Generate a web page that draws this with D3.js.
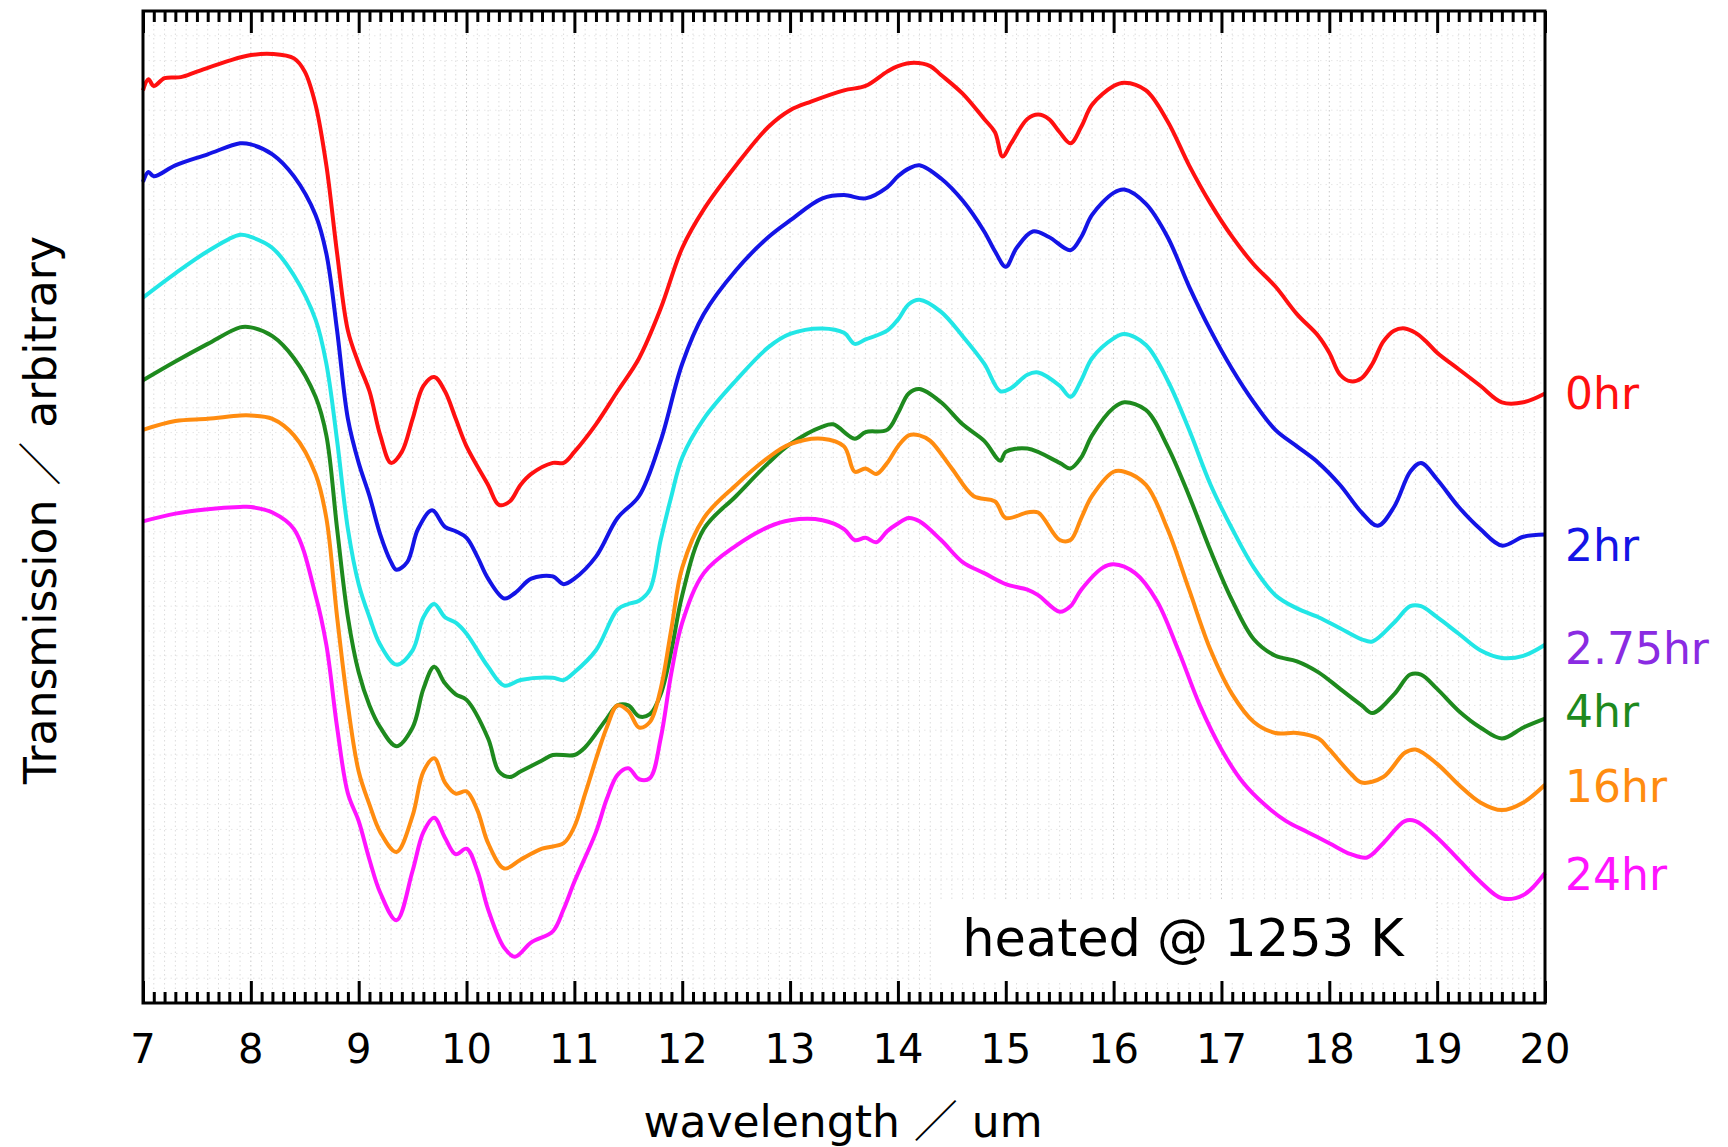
<!DOCTYPE html>
<html>
<head>
<meta charset="utf-8">
<script src="https://cdn.jsdelivr.net/npm/d3@7"></script>
<style>
  body { margin: 0; background: #fff; }
  svg { display: block; font-family: "DejaVu Sans", "Noto Sans CJK JP", sans-serif; }
</style>
</head>
<body>
<svg id="chart" width="1728" height="1147"></svg>
<script>
// wavelength (um), transmission (arbitrary units, offset stacked)
var hr0 = [[7.0,82.8],[7.05,83.8],[7.1,83.2],[7.2,83.9],[7.35,84.0],[7.5,84.5],[7.8,85.5],[8.0,86.0],[8.2,86.1],[8.4,85.7],[8.5,84.5],[8.6,81.5],[8.7,76.0],[8.8,68.0],[8.9,61.0],[9.0,58.0],[9.1,55.5],[9.2,51.5],[9.3,49.0],[9.4,50.0],[9.5,53.0],[9.6,56.0],[9.7,56.8],[9.8,55.5],[9.9,53.0],[10.0,50.5],[10.2,47.0],[10.3,45.2],[10.4,45.5],[10.5,47.0],[10.6,48.0],[10.8,49.0],[10.9,49.0],[11.0,50.0],[11.2,52.5],[11.4,55.5],[11.6,58.5],[11.8,63.0],[12.0,68.5],[12.2,72.0],[12.5,76.0],[12.8,79.5],[13.0,81.0],[13.2,81.8],[13.5,82.8],[13.7,83.2],[13.9,84.5],[14.0,85.0],[14.15,85.3],[14.3,85.0],[14.4,84.2],[14.6,82.5],[14.8,80.2],[14.9,79.0],[14.97,76.8],[15.05,78.0],[15.2,80.2],[15.3,80.6],[15.4,80.2],[15.5,79.0],[15.6,78.0],[15.7,79.5],[15.8,81.5],[16.0,83.2],[16.1,83.5],[16.3,82.8],[16.5,80.0],[16.7,76.0],[16.9,72.5],[17.1,69.5],[17.3,67.0],[17.5,65.0],[17.7,62.5],[17.9,60.5],[18.0,59.0],[18.1,57.0],[18.2,56.4],[18.3,56.7],[18.4,58.0],[18.5,60.0],[18.6,61.0],[18.7,61.2],[18.8,60.8],[18.9,60.0],[19.0,59.0],[19.2,57.5],[19.4,56.0],[19.6,54.5],[19.8,54.5],[20.0,55.3]];
var hr2 = [[7.0,74.5],[7.05,75.4],[7.1,75.0],[7.3,76.0],[7.6,77.0],[7.9,78.0],[8.0,77.9],[8.2,77.0],[8.4,75.0],[8.6,71.5],[8.7,68.0],[8.8,61.0],[8.9,53.0],[9.0,49.0],[9.1,46.0],[9.2,42.5],[9.3,40.0],[9.35,39.3],[9.45,40.0],[9.55,43.0],[9.68,44.7],[9.8,43.2],[9.9,42.8],[10.0,42.2],[10.1,40.5],[10.2,38.5],[10.35,36.7],[10.45,37.2],[10.6,38.5],[10.8,38.7],[10.9,38.0],[11.0,38.5],[11.2,40.5],[11.4,44.0],[11.6,46.0],[11.8,51.0],[12.0,58.0],[12.2,62.5],[12.5,66.5],[12.8,69.5],[13.0,71.0],[13.3,73.0],[13.5,73.3],[13.7,73.0],[13.9,74.0],[14.0,75.0],[14.1,75.7],[14.2,76.0],[14.4,74.8],[14.6,72.8],[14.8,70.0],[14.9,68.2],[15.0,66.8],[15.1,68.5],[15.25,70.0],[15.4,69.5],[15.6,68.3],[15.7,69.5],[15.8,71.5],[16.0,73.5],[16.1,73.8],[16.3,72.5],[16.5,69.5],[16.7,65.0],[16.9,61.0],[17.1,57.5],[17.3,54.5],[17.5,52.0],[17.7,50.5],[17.9,49.0],[18.1,47.0],[18.3,44.5],[18.45,43.3],[18.6,45.0],[18.75,48.2],[18.85,49.0],[19.0,47.5],[19.2,45.0],[19.4,43.0],[19.6,41.5],[19.8,42.3],[20.0,42.5]];
var hr275 = [[7.0,64.0],[7.3,66.2],[7.6,68.2],[7.9,69.7],[8.0,69.5],[8.2,68.5],[8.4,66.0],[8.6,62.0],[8.7,58.0],[8.8,51.0],[8.9,43.0],[9.0,38.0],[9.1,35.0],[9.2,32.5],[9.35,30.7],[9.5,32.0],[9.6,35.0],[9.7,36.2],[9.8,35.0],[9.9,34.5],[10.0,33.5],[10.2,30.5],[10.35,28.8],[10.5,29.3],[10.8,29.5],[10.9,29.3],[11.0,30.0],[11.2,32.0],[11.4,35.7],[11.5,36.2],[11.6,36.5],[11.7,37.5],[11.8,42.0],[11.9,46.0],[12.0,49.5],[12.2,53.0],[12.5,56.5],[12.8,59.5],[13.0,60.7],[13.3,61.2],[13.5,60.8],[13.6,59.8],[13.7,60.2],[13.9,61.0],[14.0,62.0],[14.1,63.4],[14.2,63.8],[14.4,62.7],[14.6,60.5],[14.8,58.0],[14.95,55.5],[15.05,55.8],[15.2,57.0],[15.3,57.2],[15.5,56.0],[15.6,55.0],[15.7,56.5],[15.8,58.5],[16.0,60.3],[16.1,60.7],[16.3,59.7],[16.5,56.5],[16.7,52.0],[16.9,47.0],[17.1,43.0],[17.3,39.5],[17.5,37.0],[17.7,35.8],[17.9,35.0],[18.1,34.0],[18.3,33.0],[18.4,32.8],[18.6,34.5],[18.75,36.0],[18.85,36.0],[19.0,35.0],[19.2,33.5],[19.4,32.0],[19.6,31.3],[19.8,31.5],[20.0,32.5]];
var hr4 = [[7.0,56.5],[7.3,58.2],[7.6,59.8],[7.9,61.3],[8.0,61.3],[8.2,60.5],[8.4,58.5],[8.6,55.0],[8.7,51.5],[8.8,43.0],[8.9,35.0],[9.0,30.0],[9.1,27.0],[9.2,25.0],[9.35,23.3],[9.5,25.0],[9.6,28.5],[9.7,30.5],[9.8,29.0],[9.9,28.0],[10.0,27.5],[10.2,24.0],[10.3,21.0],[10.4,20.5],[10.5,21.0],[10.7,22.0],[10.8,22.5],[11.0,22.5],[11.1,23.2],[11.3,25.8],[11.4,27.0],[11.5,27.0],[11.6,26.0],[11.7,26.2],[11.8,28.0],[11.9,32.0],[12.0,37.0],[12.2,43.0],[12.5,46.0],[12.8,49.0],[13.0,50.7],[13.3,52.3],[13.4,52.5],[13.6,51.2],[13.7,51.8],[13.9,52.0],[14.0,53.5],[14.1,55.3],[14.2,55.7],[14.4,54.5],[14.6,52.5],[14.8,51.0],[14.95,49.2],[15.0,50.0],[15.2,50.3],[15.5,49.0],[15.6,48.5],[15.7,49.5],[15.8,51.5],[16.0,54.0],[16.1,54.5],[16.3,53.8],[16.5,50.5],[16.7,46.0],[16.9,41.0],[17.1,36.5],[17.3,33.0],[17.5,31.5],[17.7,31.0],[17.9,30.0],[18.1,28.5],[18.3,27.0],[18.4,26.3],[18.6,28.0],[18.75,29.8],[18.85,29.8],[19.0,28.5],[19.2,26.5],[19.4,25.0],[19.6,24.0],[19.8,25.0],[20.0,25.8]];
var hr16 = [[7.0,52.0],[7.3,52.8],[7.6,53.0],[7.9,53.3],[8.0,53.3],[8.2,53.0],[8.4,51.5],[8.6,48.0],[8.7,44.0],[8.8,35.0],[8.9,27.0],[9.0,21.0],[9.1,18.0],[9.2,15.5],[9.35,13.7],[9.5,17.0],[9.6,21.0],[9.7,22.2],[9.8,20.0],[9.9,19.0],[10.0,19.2],[10.1,17.5],[10.2,14.5],[10.35,12.2],[10.5,13.0],[10.7,14.0],[10.9,14.5],[11.0,16.0],[11.1,19.0],[11.3,25.0],[11.4,27.0],[11.5,26.5],[11.6,25.0],[11.7,25.5],[11.8,28.5],[11.9,34.0],[12.0,39.5],[12.2,44.0],[12.5,47.0],[12.8,49.5],[13.0,50.7],[13.3,51.2],[13.5,50.5],[13.6,48.2],[13.7,48.5],[13.8,48.0],[13.9,49.0],[14.0,50.5],[14.1,51.5],[14.2,51.5],[14.3,51.0],[14.5,48.5],[14.7,46.0],[14.9,45.5],[15.0,44.0],[15.2,44.5],[15.3,44.5],[15.5,42.0],[15.6,42.0],[15.7,44.0],[15.8,46.0],[16.0,48.2],[16.1,48.2],[16.3,47.0],[16.5,43.0],[16.7,37.5],[16.9,32.0],[17.1,28.0],[17.3,25.5],[17.5,24.5],[17.7,24.5],[17.9,24.0],[18.0,23.0],[18.2,20.8],[18.3,20.0],[18.5,20.5],[18.7,22.7],[18.8,23.0],[19.0,21.7],[19.2,19.8],[19.4,18.2],[19.6,17.5],[19.8,18.2],[20.0,19.8]];
var hr24 = [[7.0,43.7],[7.3,44.4],[7.6,44.8],[7.9,45.0],[8.0,45.0],[8.2,44.5],[8.4,43.0],[8.6,37.0],[8.7,32.5],[8.8,25.0],[8.9,19.0],[9.0,16.5],[9.1,13.0],[9.2,10.0],[9.35,7.5],[9.5,12.0],[9.6,15.5],[9.7,16.8],[9.8,15.0],[9.9,13.5],[10.0,14.0],[10.1,12.0],[10.2,8.5],[10.35,5.0],[10.45,4.2],[10.6,5.5],[10.8,6.5],[10.9,8.5],[11.0,11.0],[11.2,15.5],[11.3,18.5],[11.4,20.7],[11.5,21.3],[11.6,20.3],[11.7,20.4],[11.8,24.0],[11.9,30.0],[12.0,34.5],[12.2,39.0],[12.5,41.5],[12.8,43.2],[13.0,43.8],[13.3,43.8],[13.5,43.0],[13.6,42.0],[13.7,42.2],[13.8,41.8],[13.9,42.8],[14.0,43.5],[14.1,44.0],[14.2,43.7],[14.4,42.0],[14.6,40.0],[14.8,39.0],[15.0,38.0],[15.2,37.5],[15.3,37.0],[15.5,35.5],[15.6,36.0],[15.7,37.5],[15.9,39.5],[16.0,39.8],[16.2,39.0],[16.4,36.5],[16.6,32.0],[16.8,27.0],[17.0,23.0],[17.2,20.0],[17.4,18.0],[17.6,16.5],[17.8,15.5],[18.0,14.5],[18.2,13.5],[18.35,13.2],[18.5,14.5],[18.7,16.5],[18.8,16.5],[19.0,15.0],[19.2,13.0],[19.4,11.0],[19.6,9.5],[19.8,9.8],[20.0,11.8]];

var seriesNames = ["0hr", "2hr", "2.75hr", "4hr", "16hr", "24hr"];
var seriesData = [hr0, hr2, hr275, hr4, hr16, hr24];
var lineColors = ["#ff1010", "#1414e6", "#22e6e6", "#1e8a1e", "#ff8c10", "#ff14ff"];
var labelColors = ["#ff1010", "#1414e6", "#8a2be2", "#1e8a1e", "#ff8c10", "#ff14ff"];
// label vertical position, in the same arbitrary units
var labelLevels = [55.3, 41.5, 32.2, 26.5, 19.7, 11.7];
var xTicks = d3.range(7, 21, 1);

var margin = {left: 143, right: 183, top: 11, bottom: 144};
var width = 1728 - margin.left - margin.right;
var height = 1147 - margin.top - margin.bottom;

var svg = d3.select("#chart");
var g = svg.append("g").attr("transform", "translate(" + margin.left + "," + margin.top + ")");

var x = d3.scaleLinear().domain([7, 20]).range([0, width]);
var y = d3.scaleLinear().domain([0, 90]).range([height, 0]);

// faint dotted grid
var minor = d3.range(70, 201).map(function(d) { return d / 10; });
g.append("g").selectAll("line").data(minor).enter().append("line")
    .attr("x1", function(d) { return x(d); })
    .attr("x2", function(d) { return x(d); })
    .attr("y1", 0).attr("y2", height)
    .attr("stroke", function(d, i) { return i % 10 == 0 ? "#c8c8c8" : "#dcdcdc"; })
    .attr("stroke-width", 1)
    .attr("stroke-dasharray", "1.5,3");
g.append("g").selectAll("line").data(d3.range(0, 91, 2.25)).enter().append("line")
    .attr("x1", 0).attr("x2", width)
    .attr("y1", function(d) { return y(d); })
    .attr("y2", function(d) { return y(d); })
    .attr("stroke", "#e6e6e6")
    .attr("stroke-width", 1)
    .attr("stroke-dasharray", "1.5,4");

// annotation box
g.append("rect")
    .attr("x", 935 - margin.left)
    .attr("y", 899 - margin.top)
    .attr("width", 500).attr("height", 82)
    .attr("fill", "#fff");
g.append("text")
    .attr("x", 1183 - margin.left)
    .attr("y", 956 - margin.top)
    .attr("text-anchor", "middle")
    .attr("font-size", 51)
    .attr("fill", "#000")
    .text("heated @ 1253 K");

// curves
var line = d3.line()
    .x(function(d) { return x(d[0]); })
    .y(function(d) { return y(d[1]); })
    .curve(d3.curveCatmullRom.alpha(0.5));

g.selectAll(".spec").data(seriesData).enter().append("path")
    .attr("class", "spec")
    .attr("d", line)
    .attr("fill", "none")
    .attr("stroke", function(d, i) { return lineColors[i]; })
    .attr("stroke-width", 4)
    .attr("stroke-linejoin", "round");

// series labels on the right
g.selectAll(".lab").data(seriesNames).enter().append("text")
    .attr("class", "lab")
    .attr("x", width + 20)
    .attr("y", function(d, i) { return y(labelLevels[i]); })
    .attr("dy", "0.36em")
    .attr("font-size", 44)
    .attr("fill", function(d, i) { return labelColors[i]; })
    .text(function(d) { return d; });

// inward ticks top and bottom
var minorOnly = minor.filter(function(d, i) { return i % 10 != 0; });
var bottomAxis = d3.axisBottom(x).tickValues(xTicks).tickSize(-22).tickFormat("");
var topAxis = d3.axisTop(x).tickValues(xTicks).tickSize(-22).tickFormat("");
var bottomMinor = d3.axisBottom(x).tickValues(minorOnly).tickSize(-11).tickFormat("");
var topMinor = d3.axisTop(x).tickValues(minorOnly).tickSize(-11).tickFormat("");

[ [bottomAxis, height], [bottomMinor, height], [topAxis, 0], [topMinor, 0] ].forEach(function(a) {
    var ax = g.append("g").attr("transform", "translate(0," + a[1] + ")").call(a[0]);
    ax.select(".domain").remove();
    ax.selectAll("line").attr("stroke", "#000").attr("stroke-width", 3);
});

// frame
g.append("rect")
    .attr("width", width).attr("height", height)
    .attr("fill", "none").attr("stroke", "#000").attr("stroke-width", 3);

// tick labels
g.append("g").selectAll("text").data(xTicks).enter().append("text")
    .attr("x", function(d) { return x(d); })
    .attr("y", height + 60)
    .attr("text-anchor", "middle")
    .attr("font-size", 40)
    .attr("fill", "#000")
    .text(function(d) { return d; });

// axis titles
svg.append("text")
    .attr("x", 843).attr("y", 1137)
    .attr("text-anchor", "middle")
    .attr("font-size", 44)
    .attr("fill", "#000")
    .text("wavelength ／ um");

svg.append("text")
    .attr("transform", "translate(56,510)rotate(-90)")
    .attr("text-anchor", "middle")
    .attr("font-size", 44)
    .attr("fill", "#000")
    .text("Transmission ／ arbitrary");
</script>
</body>
</html>
